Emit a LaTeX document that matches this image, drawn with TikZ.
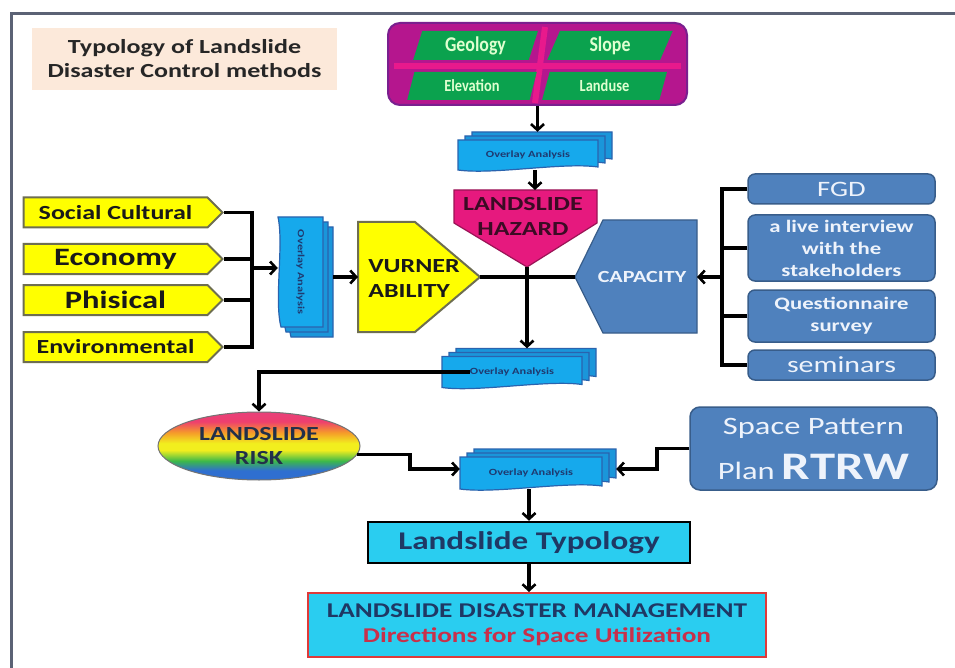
\documentclass[tikz,border=0pt]{standalone}
\usepackage{fontspec}
\setmainfont{Carlito}[FakeStretch=1.3]
\newfontfamily\condfont{Carlito}[FakeStretch=0.85]
\usetikzlibrary{shapes.geometric,shapes.symbols,arrows.meta}
\definecolor{framec}{HTML}{5B6275}
\definecolor{peach}{HTML}{FCE9DA}
\definecolor{magc}{HTML}{B5168E}
\definecolor{pinkc}{HTML}{E8198C}
\definecolor{purpd}{HTML}{7A1F8F}
\definecolor{greenc}{HTML}{0BA24E}
\definecolor{greentext}{HTML}{DFFFD0}
\definecolor{ovf}{HTML}{16A9EC}
\definecolor{ovb}{HTML}{1A96DA}
\definecolor{ovd}{HTML}{2A63AE}
\definecolor{ovt}{HTML}{1F3A70}
\definecolor{hazc}{HTML}{E6197E}
\definecolor{hazd}{HTML}{9A1456}
\definecolor{hazt}{HTML}{3B0B24}
\definecolor{yellowc}{HTML}{FFFF00}
\definecolor{ydraw}{HTML}{6E6E50}
\definecolor{bluec}{HTML}{4F81BD}
\definecolor{bluedraw}{HTML}{385D8A}
\definecolor{bluet}{HTML}{EEF3FB}
\definecolor{cyanc}{HTML}{2ACDF0}
\definecolor{navy}{HTML}{1F3864}
\definecolor{redc}{HTML}{E03A3A}
\definecolor{redt}{HTML}{C8304A}
\definecolor{riskt}{HTML}{22304A}
\definecolor{rbBlue}{HTML}{2F6FD0}
\definecolor{rbGreen}{HTML}{3CB84A}
\definecolor{rbYellow}{HTML}{F2EE1E}
\definecolor{rbOrange}{HTML}{F59A2A}
\definecolor{rbRed}{HTML}{EE3F6E}
\definecolor{rbPink}{HTML}{E8407A}
\pgfdeclareverticalshading{rainbowsh}{100bp}{color(0bp)=(rbBlue); color(25bp)=(rbBlue); color(32bp)=(rbBlue); color(39bp)=(rbGreen); color(47bp)=(rbYellow); color(52bp)=(rbYellow); color(60bp)=(rbOrange); color(68bp)=(rbRed); color(75bp)=(rbPink); color(100bp)=(rbPink)}
\newcommand\myfs[2]{\fontsize{#1}{#2}\selectfont}
\newcommand\ovlayer[5]{%
  \path[#5] ({#1-#3/2},{#2-#4/2}) -- ({#1+#3/2},{#2-#4/2}) -- ({#1+#3/2},{#2+#4/2-3})
    .. controls ({#1+#3/4},{#2+#4/2-8}) and ({#1-#3/4},{#2+#4/2+5}) .. ({#1-#3/2},{#2+#4/2}) -- cycle;}
\newcommand\ovlayerv[5]{%
  \path[#5] ({#1+#3/2},{#2-#4/2}) -- ({#1+#3/2},{#2+#4/2}) -- ({#1-#3/2+3},{#2+#4/2})
    .. controls ({#1-#3/2-4},{#2+#4/4}) and ({#1-#3/2+6},{#2-#4/4}) .. ({#1-#3/2},{#2-#4/2}) -- cycle;}
\newcommand\ovstack[5]{%
  \ovlayer{#2+14}{#3-8}{#4}{#5}{ovback}
  \ovlayer{#2+7}{#3-4}{#4}{#5}{ovback}
  \ovlayer{#2}{#3}{#4}{#5}{ovfront}
  \node[ovtext] (#1-t) at (#2,#3) {Overlay Analysis};
  \node[minimum width={#4+14}, minimum height={#5+8}, inner sep=0pt] (#1) at ({#2+7},{#3-4}) {};}
\begin{document}
\begin{tikzpicture}[x=1pt,y=-1pt,
  conn/.style={line width=3.2pt, draw=black},
  arr/.style={conn, -{Straight Barb[length=6pt,width=13pt,line width=2.6pt]}},
  ovback/.style={fill=ovb, draw=ovd, line width=1.2pt},
  ovfront/.style={fill=ovf, draw=ovd, line width=1.2pt},
  ovtext/.style={font=\bfseries\myfs{9.5}{10}, text=ovt, inner sep=0pt},
  ybox/.style={signal, signal to=east, signal pointer angle=90, fill=yellowc, draw=ydraw, line width=2pt, inner sep=0pt, text=black!90, font=\bfseries, minimum width=199, minimum height=30},
  bbox/.style={rounded corners=7pt, fill=bluec, draw=bluedraw, line width=1.5pt, text=bluet, inner sep=0pt, minimum width=187, align=center},
  gbox/.style={trapezium, trapezium left angle=74, trapezium right angle=106, trapezium stretches=true, fill=greenc, text=greentext, inner sep=0pt},
]
\useasboundingbox (0,0) rectangle (955,668);
\fill[white] (0,0) rectangle (955,668);
\draw[line width=3pt, framec] (11,668) -- (11,14) -- (955,14);

% title
\node[fill=peach, minimum width=305, minimum height=62, align=center, font=\bfseries\myfs{20}{24}, text=black!85] (ttl) at (184.5,59) {Typology of Landslide\\Disaster Control methods};

% top factor box
\node[rounded corners=12pt, fill=magc, draw=purpd, line width=2pt, minimum width=299, minimum height=82] (top) at (537.5,64) {};
\draw[pinkc, line width=6pt] (394,66) -- (681,66);
\draw[pinkc, line width=6pt] (545,27) -- (535,103);
\node[gbox, minimum width=125, minimum height=29, font=\condfont\bfseries\myfs{21}{22}] (geo) at (475.5,45.5) {Geology};
\node[gbox, minimum width=126, minimum height=29, font=\condfont\bfseries\myfs{21}{22}] (slo) at (610,45.5) {Slope};
\node[gbox, minimum width=130, minimum height=28, font=\condfont\bfseries\myfs{17}{18}] (ele) at (472,86) {Elevation};
\node[gbox, minimum width=125, minimum height=28, font=\condfont\bfseries\myfs{17}{18}] (lan) at (604.5,86) {Landuse};

% overlay stacks
\ovstack{ov1}{528}{155}{140}{30}
\ovstack{ov2}{512}{372}{140}{31}
\ovstack{ov3}{531}{473}{142}{32}
\ovlayerv{310.5}{282}{45}{110}{ovback}
\ovlayerv{305.5}{277}{45}{110}{ovback}
\ovlayerv{300.5}{272}{45}{110}{ovfront}
\node[ovtext, rotate=-90] (ovv-t) at (300.5,272) {Overlay Analysis};
\node[minimum width=55, minimum height=120, inner sep=0pt] (ovv) at (305.5,277) {};

% hazard (pentagon pointing down)
\coordinate (haztop) at (527,190);
\coordinate (haztip) at (527,267);
\filldraw[fill=hazc, draw=hazd, line width=1.2pt] (454,190) -- (597,190) -- (597,223) -- (haztip) -- (454,223) -- cycle;
\node[align=center, font=\bfseries\myfs{20}{25}, text=hazt] (haz) at (523,216) {LANDSLIDE\\HAZARD};

% vulnerability (pentagon pointing right)
\coordinate (vulleft) at (358,277);
\coordinate (vultip) at (480,277);
\filldraw[fill=yellowc, draw=ydraw, line width=2pt] (358,222) -- (415,222) -- (vultip) -- (415,332) -- (358,332) -- cycle;
\node[align=left, font=\bfseries\myfs{20}{25}, text=black!90] (vul) at (414,279) {VURNER\\ABILITY};

% capacity (pentagon pointing left)
\coordinate (captip) at (575,277);
\coordinate (capright) at (697,277);
\filldraw[fill=bluec, draw=bluedraw, line width=1.2pt] (captip) -- (603,220) -- (697,220) -- (697,333) -- (603,333) -- cycle;
\node[font=\bfseries\myfs{17}{20}, text=bluet] (cap) at (642,277) {CAPACITY};

% left factors
\node[ybox] (soc) at (115.5,212.5) {\myfs{20}{24}Social Cultural};
\node[ybox] (eco) at (115.5,259) {\myfs{25}{28}Economy};
\node[ybox] (phi) at (115.5,300) {\myfs{25}{28}Phisical};
\node[ybox] (env) at (115.5,347) {\myfs{20}{24}Environmental};

% right methods
\node[bbox, minimum height=30, font=\myfs{22}{24}] (fgd) at (841.5,189) {FGD};
\node[bbox, minimum height=66, font=\bfseries\myfs{17.5}{22}] (intv) at (841.5,248) {a live interview\\with the\\stakeholders};
\node[bbox, minimum height=52, font=\bfseries\myfs{17.5}{22}] (ques) at (841.5,316) {Questionnaire\\survey};
\node[bbox, minimum height=30, font=\myfs{23}{24}] (sem) at (841.5,365) {seminars};

% RTRW
\node[bbox, rounded corners=10pt, minimum width=247, minimum height=83, font=\myfs{25}{34}] (rtrw) at (813.5,448.5) {Space Pattern\\[11pt]Plan {\bfseries\myfs{39}{40}RTRW}};

% risk
\node[ellipse, draw=black!55, line width=1pt, shade, shading=rainbowsh, minimum width=202, minimum height=68, inner sep=0pt, align=center, font=\bfseries\myfs{20}{24}, text=riskt] (risk) at (259,446) {LANDSLIDE\\RISK};

% typology and management
\node[draw=black, line width=2.5pt, fill=cyanc, minimum width=322, minimum height=41, inner sep=0pt, font=\bfseries\myfs{25.5}{30}, text=navy] (typ) at (529,542.5) {Landslide Typology};
\node[draw=redc, line width=2pt, fill=cyanc, minimum width=458, minimum height=64, inner sep=0pt, align=center, font=\bfseries\myfs{21}{25}, text=navy] (mgmt) at (537,625) {LANDSLIDE DISASTER MANAGEMENT\\\textcolor{redt}{Directions for Space Utilization}};

% connectors
\draw[arr] (top.south) -- (top.south |- ov1.north);
\draw[arr] (ov1.south) -- (ov1.south |- haztop);
\draw[conn] (vultip) -- (captip);
\draw[arr] (haztip) -- (haztip |- ov2.north);
\draw[arr] (ov2-t.west) -| (risk.north);
\coordinate (rk) at (410,0);
\draw[arr] (risk.-5) -- (risk.-5 -| rk) |- (ov3.west);
\coordinate (rc) at (657,0);
\draw[arr] (rtrw.west) -- (rtrw.west -| rc) |- (ov3.east);
\draw[arr] (ov3.south -| typ.north) -- (typ.north);
\draw[arr] (typ.south) -- (typ.south |- mgmt.north);

\coordinate (lb) at (252,268);
\draw[conn] (soc.east) -| (lb);
\draw[conn] (env.east) -| (lb);
\draw[conn] (eco.east) -- (eco.east -| lb);
\draw[conn] (phi.east) -- (phi.east -| lb);
\draw[arr] (lb) -- (lb -| ovv.west);
\draw[arr] (ovv.east |- vulleft) -- (vulleft);

\coordinate (rb) at (722,277);
\draw[conn] (fgd.west) -| (rb);
\draw[conn] (sem.west) -| (rb);
\draw[conn] (intv.west) -- (intv.west -| rb);
\draw[conn] (ques.west) -- (ques.west -| rb);
\draw[arr] (rb) -- (capright);
\end{tikzpicture}
\end{document}
